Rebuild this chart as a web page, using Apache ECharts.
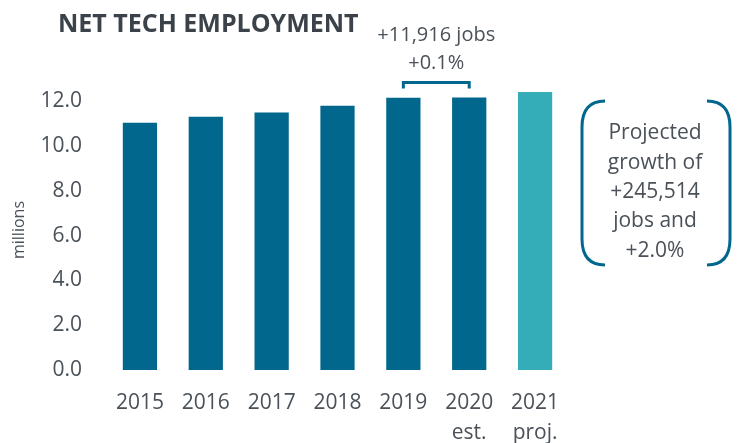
<!DOCTYPE html>
<html>
<head>
<meta charset="utf-8">
<script src="https://cdn.jsdelivr.net/npm/echarts@6/dist/echarts.min.js"></script>
<style>
  html, body { margin: 0; padding: 0; background: #fff; }
  #main { width: 738px; height: 443px; }
</style>
</head>
<body>
<div id="main"></div>
<script>
// data (millions)
const years = ['2015', '2016', '2017', '2018', '2019', '2020\nest.', '2021\nproj.']
const employment = [11.04, 11.31, 11.49, 11.80, 12.15, 12.17, 12.41]
const changeNote = ['+11,916 jobs', '+0.1%']
const projNote = ['Projected', 'growth of', '+245,514', 'jobs and', '+2.0%']

const dark = '#02678c'
const light = '#35adb8'
const textCol = '#4a5158'
const font = 'Open Sans'

const chart = echarts.init(document.getElementById('main'))

chart.setOption({
  backgroundColor: '#ffffff',
  animation: false,
  title: {
    text: 'NET TECH EMPLOYMENT',
    left: 53,
    top: 7,
    textStyle: { fontFamily: font, fontWeight: 'bold', fontSize: 25, color: '#3b4249' }
  },
  grid: { left: 107, right: 170, top: 90, bottom: 73, outerBoundsMode: 'none' },
  xAxis: {
    type: 'category',
    data: years,
    axisLine: { show: false },
    axisTick: { show: false },
    axisLabel: { fontFamily: font, fontSize: 21, color: textCol, margin: 18, lineHeight: 30 }
  },
  yAxis: {
    type: 'value',
    min: 0,
    max: 12.5,
    interval: 2,
    name: 'millions',
    nameLocation: 'middle',
    nameGap: 80,
    nameTextStyle: { fontFamily: font, fontSize: 16, color: textCol },
    axisLine: { show: false },
    axisTick: { show: false },
    splitLine: { show: false },
    axisLabel: {
      fontFamily: font, fontSize: 21, color: textCol, margin: 25,
      formatter: v => (v % 2 === 0 ? v.toFixed(1) : '')
    }
  },
  series: [{
    type: 'bar',
    barWidth: '52%',
    data: employment.map((v, i) => ({
      value: v,
      itemStyle: { color: i === employment.length - 1 ? light : dark }
    }))
  }]
})

// annotations placed from the data through the axes
const p19 = chart.convertToPixel({ gridIndex: 0 }, [4, employment[4]])
const p20 = chart.convertToPixel({ gridIndex: 0 }, [5, employment[5]])
const yb = Math.min(p19[1], p20[1]) - 15
const midX = (p19[0] + p20[0]) / 2

const lineStyle = { stroke: dark, lineWidth: 3, fill: null }

// one side of the round bracket box
function paren(xEnd, xSide, yTop, yBot, r) {
  return [
    { type: 'bezierCurve', shape: { x1: xEnd, y1: yTop, cpx1: xSide, cpy1: yTop, x2: xSide, y2: yTop + r }, style: lineStyle },
    { type: 'line', shape: { x1: xSide, y1: yTop + r, x2: xSide, y2: yBot - r }, style: lineStyle },
    { type: 'bezierCurve', shape: { x1: xSide, y1: yBot - r, cpx1: xSide, cpy1: yBot, x2: xEnd, y2: yBot }, style: lineStyle }
  ]
}

chart.setOption({
  graphic: [
    {
      type: 'polyline',
      shape: { points: [[p19[0], yb + 6], [p19[0], yb], [p20[0], yb], [p20[0], yb + 6]] },
      style: lineStyle
    },
    {
      type: 'text',
      x: midX, y: yb - 33,
      style: {
        text: changeNote.join('\n'), font: '20px "' + font + '"', fill: textCol,
        align: 'center', verticalAlign: 'middle', lineHeight: 28
      }
    },
    ...paren(605, 582, 101, 265, 26),
    ...paren(707, 730, 101, 265, 26),
    {
      type: 'text',
      x: 655, y: 192,
      style: {
        text: projNote.join('\n'), font: '21px "' + font + '"', fill: textCol,
        align: 'center', verticalAlign: 'middle', lineHeight: 29.3
      }
    }
  ]
})
</script>
</body>
</html>
